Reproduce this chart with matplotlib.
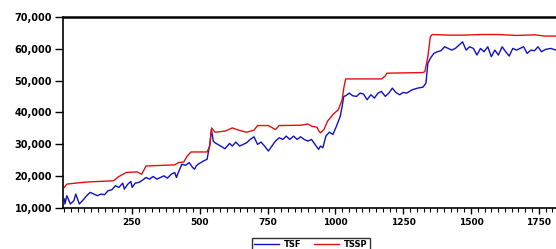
import matplotlib
matplotlib.use("Agg")
import matplotlib.pyplot as plt
from matplotlib.ticker import MultipleLocator, FuncFormatter

tsf_x = [1, 3, 10, 23, 36, 43, 56, 70, 83, 96, 109, 123, 136, 149, 162, 176, 189, 202, 216, 222,
         235, 246, 251, 262, 275, 289, 302, 315, 328, 342, 355, 368, 381, 395, 408, 414, 421, 434, 448, 461,
         474, 481, 487, 494, 514, 527, 537, 543, 550, 556, 573, 593, 610, 620, 633, 647, 660, 673, 686, 700,
         713, 726, 739, 753, 766, 779, 793, 806, 819, 832, 846, 859, 872, 885, 899, 912, 925, 938, 945, 954,
         965, 978, 991, 1004, 1018, 1025, 1031, 1038, 1051, 1064, 1078, 1091, 1104, 1117, 1131, 1144, 1157, 1170, 1184, 1197,
         1210, 1223, 1237, 1250, 1263, 1283, 1303, 1323, 1334, 1341, 1350, 1363, 1376, 1389, 1403, 1416, 1429, 1442, 1456, 1469,
         1482, 1495, 1509, 1522, 1535, 1548, 1562, 1575, 1588, 1601, 1615, 1628, 1641, 1654, 1668, 1681, 1694, 1707, 1721, 1734,
         1747, 1760, 1774, 1794, 1814, 1824]
tsf_y = [12830, 11270, 13866, 11270, 12306, 14386, 11270, 12515, 13866, 14906, 14386, 13866, 14386, 14178, 15426, 15738, 16985, 16466, 17817, 15946,
         17505, 18336, 16466, 17817, 18024, 18752, 19585, 19065, 19896, 19065, 19585, 20104, 19377, 20624, 21143, 19585, 21143, 23742, 23430, 24261,
         22702, 22183, 23222, 23742, 24781, 25301, 29979, 34658, 31019, 30499, 29668, 28628, 30291, 29460, 30707, 29460, 29979, 30499, 31538, 32370,
         29979, 30707, 29460, 27900, 29460, 31019, 32058, 31538, 32578, 31538, 32578, 31538, 32370, 31538, 31019, 31538, 29979, 28420, 29460, 28940,
         32578, 33827, 33100, 35697, 38813, 41932, 45052, 45260, 46092, 45260, 45052, 46092, 45780, 44012, 45572, 44532, 46092, 46611, 45052, 46092,
         47651, 46300, 45572, 46300, 46092, 47130, 47651, 47962, 49210, 55447, 57007, 58566, 59086, 59398, 60645, 60125, 59605, 60125, 61164, 62203,
         59605, 60645, 60125, 58046, 60125, 59086, 60645, 57527, 59605, 58046, 60645, 59086, 57735, 60125, 59605, 60125, 60645, 58566, 59605, 59398,
         60645, 59086, 59813, 60125, 59605, 59813]

# TSSP (red)
tssp_x = [1, 10, 63, 92, 182, 202, 229, 269, 286, 302, 408, 421, 441, 454, 468, 527, 537, 544, 556, 593,
          620, 647, 673, 700, 713, 753, 779, 793, 872, 899, 912, 932, 938, 945, 958, 971, 991, 1011, 1025, 1031,
          1038, 1171, 1184, 1190, 1323, 1330, 1341, 1350, 1357, 1420, 1469, 1540, 1601, 1668, 1734, 1774, 1824]
tssp_y = [16500, 17500, 18000, 18200, 18550, 19900, 21150, 21350, 20600, 23200, 23550, 24250, 24450, 26350, 27600, 27600, 29450, 35150, 33800, 34150,
          35150, 34350, 33800, 34450, 35900, 35900, 34650, 35900, 36000, 36400, 35700, 35400, 34350, 33600, 34650, 37250, 39350, 40900, 44000, 47650,
          50550, 50550, 51500, 52350, 52550, 52850, 57500, 63750, 64500, 64300, 64300, 64500, 64500, 64200, 64400, 64000, 64000]

y_ticks = [10000, 20000, 30000, 40000, 50000, 60000, 70000]
x_ticks = [250, 500, 750, 1000, 1250, 1500, 1750]
series_names = ["TSF", "TSSP"]

fig = plt.figure(figsize=(5.56, 2.49), dpi=100)
ax = fig.add_axes([62.5 / 556, 1 - 208 / 249, (567 - 62.5) / 556, (208 - 17) / 249])

ax.plot(tsf_x, tsf_y, color="#1010C8", lw=1.0, label=series_names[0])
ax.plot(tssp_x, tssp_y, color="#E01010", lw=1.0, label=series_names[1])

ax.set_xlim(-6, 1854)
ax.set_ylim(10000, 70000)
ax.set_yticks(y_ticks)
ax.set_xticks(x_ticks)
ax.xaxis.set_minor_locator(MultipleLocator(25))
ax.yaxis.set_major_formatter(FuncFormatter(lambda v, p: f"{v:,.0f}"))

for s in ax.spines.values():
    s.set_linewidth(1.2)
    s.set_color("black")
ax.spines["top"].set_linewidth(1.8)

ax.tick_params(axis="y", which="major", direction="out", length=6, width=1.0,
               labelsize=7, pad=1.5)
ax.tick_params(axis="x", which="major", direction="out", length=4, width=1.0,
               labelsize=6.5, pad=3)
ax.tick_params(axis="x", which="minor", direction="out", length=3, width=0.8)
for lab in ax.get_xticklabels() + ax.get_yticklabels():
    lab.set_fontweight("bold")

leg = ax.legend(loc="upper center", bbox_to_anchor=(311 / 556, 1 - 234 / 249),
                bbox_transform=fig.transFigure, ncol=2, frameon=True, fancybox=False,
                edgecolor="black", prop={"size": 6, "weight": "bold"},
                handlelength=3.0, columnspacing=1.5, borderpad=0.25, handletextpad=0.6)
leg.get_frame().set_linewidth(1.0)

fig.savefig("out.png", dpi=100)
